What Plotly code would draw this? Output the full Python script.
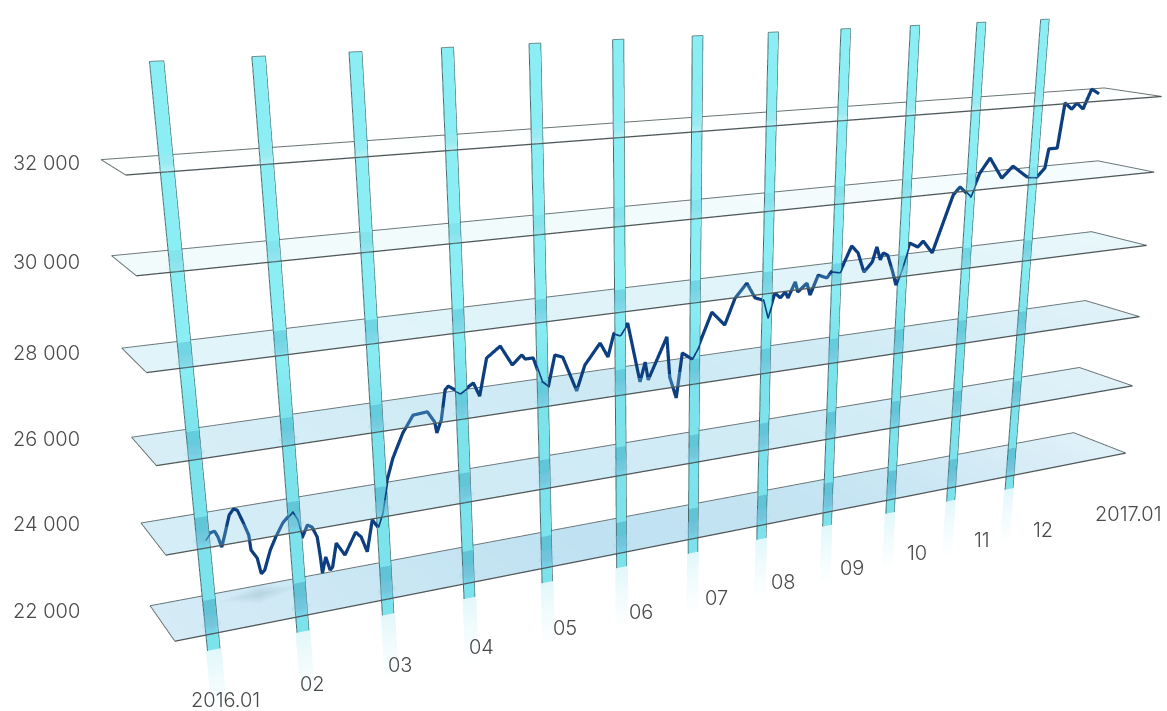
import numpy as np
import plotly.graph_objects as go

# ---------- data ----------
MONTHS = [0.02,0.08,0.13,0.16,0.19,0.24,0.3,0.35,0.39,0.44,0.49,0.5,0.56,0.59,0.63,0.71,0.78,0.87,0.98,1.03,1.07,1.14,1.19,1.24,1.26,1.27,1.32,1.36,1.39,1.45,1.54,1.68,1.74,1.8,1.88,1.94,2.0,2.08,2.16,2.29,2.42,2.59,2.67,2.69,2.75,2.81,2.85,2.99,3.15,3.22,3.32,3.49,3.63,3.75,3.79,3.89,3.99,4.07,4.16,4.26,4.43,4.54,4.74,4.84,4.92,5.0,5.1,5.26,5.33,5.37,5.62,5.66,5.75,5.83,5.96,6.04,6.23,6.41,6.55,6.71,6.83,6.94,7.01,7.11,7.19,7.26,7.3,7.4,7.44,7.57,7.62,7.73,7.86,7.93,8.05,8.21,8.31,8.41,8.53,8.59,8.65,8.69,8.76,8.85,8.91,8.99,9.09,9.22,9.3,9.45,9.73,9.83,10.0,10.13,10.28,10.49,10.66,10.9,11.07,11.19,11.23,11.37,11.44,11.56,11.64,11.75,11.87,12.0]
VALUES = [23760,23910,23930,23780,23530,23850,24250,24370,24330,24030,23700,23340,23120,22730,22800,23260,23540,23850,24070,23860,23410,23700,23630,23370,22870,22470,22850,22510,22570,23140,22810,23320,23180,22790,23550,23350,23680,24460,24960,25520,25910,25940,25670,25400,25700,26400,26480,26270,26470,26130,27020,27260,26770,26980,26870,26870,26250,26110,26870,26790,25910,26520,27010,26640,27210,27140,27410,25900,26380,25920,26940,25910,25350,26480,26290,26550,27410,27040,27690,28030,27630,27550,27070,27690,27550,27680,27520,27910,27640,27840,27520,28010,27910,28070,28020,28660,28460,27940,28180,28560,28210,28380,28310,27850,27490,27920,28560,28430,28570,28230,29700,29890,29600,30200,30570,30010,30300,29980,29950,30170,30670,30670,31850,31670,31820,31650,32160,32020]
PLANE_VALUES = [22000, 24000, 26000, 28000, 30000, 32000]
VALUE_LABELS = ["22 000", "24 000", "26 000", "28 000", "30 000", "32 000"]
PILLAR_MONTHS = list(range(12))
MONTH_LABELS = ["2016.01","02","03","04","05","06","07","08","09","10","11","12","2017.01"]

# ---------- label placement (page pixels) ----------
VALUE_LABEL_Y = [611, 524, 439, 353, 262, 163]
MONTH_LABEL_X = [225,312,400,481,565,641,716,783,852,917,982,1043,1128]
MONTH_LABEL_Y = [700,684,665,647,628,612,598,582,568,553,540,530,514]

# ---------- scene geometry ----------
W, H = 1167, 711
KILO_SCALE = 0.5117          # scene units (one month = 1) per 1000 of value
HALF_DEPTH = 0.3211
TILT_Z, TILT_X = -0.2761, -0.2953
SKEW_X, SKEW_Z = -0.0924, 0.1876
X_LEFT, X_RIGHT = -0.5146, 12.5755
PILLAR_BOTTOM, PILLAR_TOP = 21120, 34020
PILLAR_HALF = 0.068
EYE = np.array([-1.0435, -9.1881, -0.7356])
UP = np.array([0.10226, -0.1235, 0.98706])
FORWARD = np.array([0.50446, 0.86165, 0.05555])

XR = [-1.2, 13.2]; YR = [-4.5, 4.5]; ZR = [18000, 35000]

def depth(month, value):
    return TILT_Z * (value - 27000) / 1000 * KILO_SCALE + TILT_X * (month - 5.5)

def plane_pt(month, side, value):
    return (month + SKEW_X * side,
            depth(month, value) + HALF_DEPTH * side,
            value + SKEW_Z * side / KILO_SCALE * 1000)

def toward_viewer(month, value, front):
    """slide a point on the pillar wall toward the eye along its own sight line"""
    p = np.array([month, depth(month, value), (value - 27000) / 1000 * KILO_SCALE])
    q = p + (EYE - p) * front / (p[1] - EYE[1])
    return q[0], q[1], q[2] / KILO_SCALE * 1000 + 27000

fig = go.Figure()
LIT = dict(ambient=1, diffuse=0, specular=0, roughness=1, fresnel=0)

def glow(month, value, half_w, half_h, rgb, alpha, front=0.36):
    """soft spot seen over the pillar wall"""
    pts = [(month, value), (month - half_w, value), (month, value + half_h), (month + half_w, value), (month, value - half_h)]
    q = [toward_viewer(a, b, front) for a, b in pts]
    cols = [f"rgba({rgb[0]},{rgb[1]},{rgb[2]},{alpha})"] + [f"rgba({rgb[0]},{rgb[1]},{rgb[2]},0)"] * 4
    fig.add_trace(go.Mesh3d(x=[p[0] for p in q], y=[p[1] for p in q], z=[p[2] for p in q],
                            i=[0, 0, 0, 0], j=[1, 2, 3, 4], k=[2, 3, 4, 1], vertexcolor=cols, lighting=LIT, hoverinfo="skip"))

# under-glow below each pillar
for m in PILLAR_MONTHS:
    hw = PILLAR_HALF * 1.25
    levels = [PILLAR_BOTTOM, PILLAR_BOTTOM - 800, PILLAR_BOTTOM - 1700]
    alphas = [0.34, 0.16, 0.0]
    xs, ys, zs, cols = [], [], [], []
    for v, a in zip(levels, alphas):
        for x in (m - hw, m + hw):
            xs.append(x); ys.append(depth(x, v)); zs.append(v)
            cols.append(f"rgba(170,232,240,{a})")
    fig.add_trace(go.Mesh3d(x=xs, y=ys, z=zs, i=[0,1,2,3], j=[1,3,3,5], k=[2,2,4,4],
                            vertexcolor=cols, lighting=LIT, hoverinfo="skip"))

# pillars, with darker passes where the shelves cross them
DARK = {22000:(96,196,214),24000:(96,198,216),26000:(100,204,220),28000:(112,214,228),30000:(132,228,238),32000:(150,236,242)}
SOFT = {22000:(150,205,222),24000:(150,208,225),26000:(150,212,228),28000:(150,222,234),30000:(165,232,240),32000:(190,244,248)}
HT = {22000:340,24000:310,26000:280,28000:250,30000:210,32000:170}
TOPC = (138,238,244); LOWC = (124,226,236)
def pcol(c): return f"rgb({c[0]},{c[1]},{c[2]})"
for m in PILLAR_MONTHS:
    lv = [(PILLAR_BOTTOM, LOWC)]
    for v in PLANE_VALUES:
        lv += [(v - HT[v] - 1, LOWC if v < 27000 else TOPC), (v - HT[v], SOFT[v]), (v, DARK[v]),
               (v + HT[v], DARK[v]), (v + HT[v] + 1, LOWC if v < 27000 else TOPC)]
    lv.append((PILLAR_TOP, TOPC))
    xs, ys, zs, cols, ii, jj, kk = [], [], [], [], [], [], []
    for n, (v, c) in enumerate(lv):
        for x in (m - PILLAR_HALF, m + PILLAR_HALF):
            xs.append(x); ys.append(depth(x, v)); zs.append(v); cols.append(pcol(c))
        if n:
            b = 2 * (n - 1)
            ii += [b, b + 1]; jj += [b + 1, b + 3]; kk += [b + 2, b + 2]
    fig.add_trace(go.Mesh3d(x=xs, y=ys, z=zs, i=ii, j=jj, k=kk, vertexcolor=cols, lighting=LIT, hoverinfo="skip"))
    for x in (m - PILLAR_HALF, m + PILLAR_HALF):
        fig.add_trace(go.Scatter3d(x=[x, x], y=[depth(x, PILLAR_BOTTOM), depth(x, PILLAR_TOP)],
                                   z=[PILLAR_BOTTOM, PILLAR_TOP], mode="lines", hoverinfo="skip",
                                   line=dict(color="#46686a", width=2)))
    fig.add_trace(go.Scatter3d(x=[m - PILLAR_HALF, m + PILLAR_HALF],
                               y=[depth(m - PILLAR_HALF, PILLAR_TOP), depth(m + PILLAR_HALF, PILLAR_TOP)],
                               z=[PILLAR_TOP, PILLAR_TOP], mode="lines", hoverinfo="skip",
                               line=dict(color="#6f8f90", width=2)))

# the series
fig.add_trace(go.Scatter3d(x=MONTHS, y=[depth(m, v) for m, v in zip(MONTHS, VALUES)], z=VALUES,
                           mode="lines", hoverinfo="skip", line=dict(color="#0d3f80", width=6.5)))

# shelves
ALPHA = {22000:[.30,.46,.40,.22],24000:[.30,.34,.32,.22],26000:[.28,.36,.32,.22],28000:[.24,.26,.24,.18],30000:[.12,.12,.10,.08],32000:[.01,.01,.01,.01]}
TINT = {22000:(115,190,225),24000:(115,195,225),26000:(115,195,225),28000:(130,210,230),30000:(140,220,232),32000:(140,220,232)}
STATIONS = [X_LEFT, 4.5, 8.5, X_RIGHT]
for v in PLANE_VALUES:
    xs, ys, zs, cols, ii, jj, kk = [], [], [], [], [], [], []
    t = TINT[v]
    for n, st in enumerate(STATIONS):
        for s in (1, -1):
            p = plane_pt(st, s, v)
            xs.append(p[0]); ys.append(p[1]); zs.append(p[2])
            cols.append(f"rgba({t[0]},{t[1]},{t[2]},{ALPHA[v][n]})")
        if n:
            b = 2 * (n - 1)
            ii += [b, b + 1]; jj += [b + 1, b + 3]; kk += [b + 2, b + 2]
    fig.add_trace(go.Mesh3d(x=xs, y=ys, z=zs, i=ii, j=jj, k=kk, vertexcolor=cols, lighting=LIT, hoverinfo="skip"))
    far = [plane_pt(X_LEFT, -1, v), plane_pt(X_LEFT, 1, v), plane_pt(X_RIGHT, 1, v), plane_pt(X_RIGHT, -1, v)]
    near = [plane_pt(X_RIGHT, -1, v), plane_pt(X_LEFT, -1, v)]
    fig.add_trace(go.Scatter3d(x=[r[0] for r in far], y=[r[1] for r in far], z=[r[2] for r in far],
                               mode="lines", hoverinfo="skip", line=dict(color="#6b7476", width=2)))
    fig.add_trace(go.Scatter3d(x=[r[0] for r in near], y=[r[1] for r in near], z=[r[2] for r in near],
                               mode="lines", hoverinfo="skip", line=dict(color="#4f585a", width=2.6)))
    # soft spot where each pillar passes behind the shelf's front edge
    for m in PILLAR_MONTHS:
        glow(m, v - HT[v] * 0.75, PILLAR_HALF * 1.9, HT[v] * 0.85, DARK[v], 0.55 if v < 31000 else 0.35)

# faint smudge on the lowest shelf
glow(0.55, 22250, 0.45, 250, (120,160,185), 0.3)

# ---------- camera ----------
k = 1 / (XR[1] - XR[0])
aspect = dict(x=1, y=(YR[1] - YR[0]) * k, z=(ZR[1] - ZR[0]) / 1000 * KILO_SCALE * k)
mid = np.array([sum(XR) / 2, sum(YR) / 2, (sum(ZR) / 2 - 27000) / 1000 * KILO_SCALE])
eye = (EYE - mid) * k
center = eye + FORWARD * 0.6
vec = lambda a: dict(x=float(a[0]), y=float(a[1]), z=float(a[2]))
off = dict(visible=False)

FONT = dict(family="Inter, Lato, sans-serif", size=20, color="#4a4a4a", weight=300)
notes = [dict(x=46 / W, y=1 - py / H, text=t) for t, py in zip(VALUE_LABELS, VALUE_LABEL_Y)]
notes += [dict(x=px / W, y=1 - py / H, text=t) for t, px, py in zip(MONTH_LABELS, MONTH_LABEL_X, MONTH_LABEL_Y)]
for n in notes:
    n.update(xref="paper", yref="paper", showarrow=False, xanchor="center", yanchor="middle", font=FONT)

fig.update_layout(width=W, height=H, margin=dict(l=0, r=0, t=0, b=0), showlegend=False,
                  paper_bgcolor="white", annotations=notes,
                  scene=dict(domain=dict(x=[0, 1], y=[0, 1]), aspectmode="manual", aspectratio=aspect,
                             bgcolor="white", hovermode=False, dragmode=False,
                             xaxis=dict(range=XR, **off), yaxis=dict(range=YR, **off), zaxis=dict(range=ZR, **off),
                             camera=dict(eye=vec(eye), center=vec(center), up=vec(UP),
                                         projection=dict(type="perspective"))))
fig.write_html("out.html", config=dict(displayModeBar=False),
               post_script="document.body.style.margin='0';document.documentElement.style.overflow='hidden';")
